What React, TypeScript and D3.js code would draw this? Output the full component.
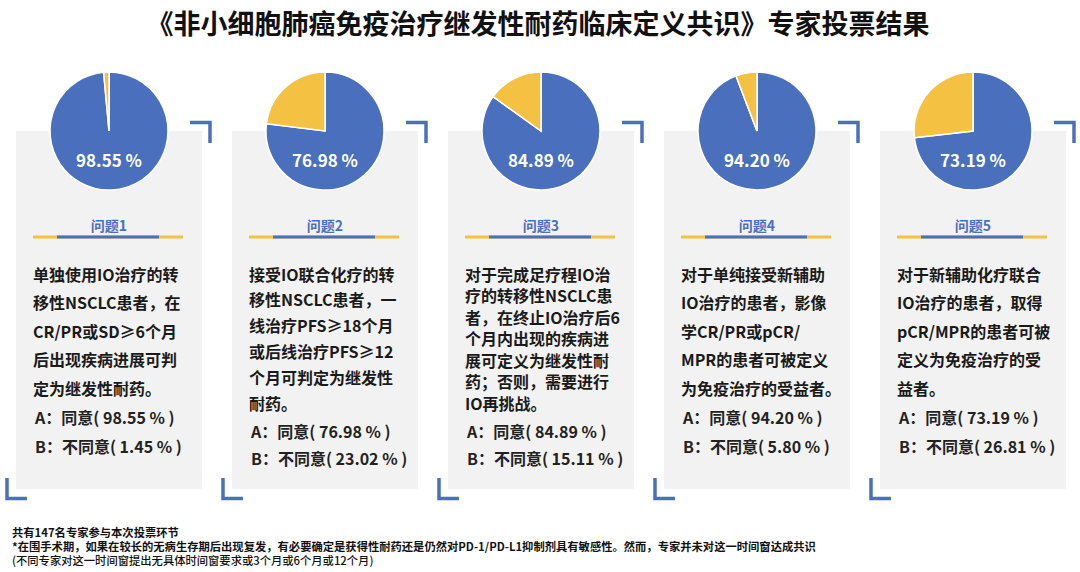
import React from "react";
import * as d3 from "d3";

const TITLE = "《非小细胞肺癌免疫治疗继发性耐药临床定义共识》专家投票结果";
const questions = ["问题1", "问题2", "问题3", "问题4", "问题5"];
const agree = [98.55, 76.98, 84.89, 94.2, 73.19];
const disagree = [1.45, 23.02, 15.11, 5.8, 26.81];
const bodies: string[][] = [
  ["单独使用IO治疗的转", "移性NSCLC患者，在", "CR/PR或SD≥6个月", "后出现疾病进展可判", "定为继发性耐药。"],
  ["接受IO联合化疗的转", "移性NSCLC患者，一", "线治疗PFS≥18个月", "或后线治疗PFS≥12", "个月可判定为继发性", "耐药。"],
  ["对于完成足疗程IO治", "疗的转移性NSCLC患", "者，在终止IO治疗后6", "个月内出现的疾病进", "展可定义为继发性耐", "药；否则，需要进行", "IO再挑战。"],
  ["对于单纯接受新辅助", "IO治疗的患者，影像", "学CR/PR或pCR/", "MPR的患者可被定义", "为免疫治疗的受益者。"],
  ["对于新辅助化疗联合", "IO治疗的患者，取得", "pCR/MPR的患者可被", "定义为免疫治疗的受", "益者。"],
];
const footnotes = [
  "共有147名专家参与本次投票环节",
  "*在围手术期，如果在较长的无病生存期后出现复发，有必要确定是获得性耐药还是仍然对PD-1/PD-L1抑制剂具有敏感性。然而，专家并未对这一时间窗达成共识",
  "(不同专家对这一时间窗提出无具体时间窗要求或3个月或6个月或12个月)",
];

const BLUE = "#4a70bd";
const YELLOW = "#f4c142";
const GRAY = "#f2f2f2";
const FONT = "'Noto Sans CJK SC', 'Noto Sans', sans-serif";

const fmt = (v: number) => v.toFixed(2);

export default function App() {
  const W = 1080, H = 572;
  const boxW = 186, boxTop = 131, boxBottom = 489;
  const panelX = d3.scaleBand<number>().domain(d3.range(5)).range([16, 16 + 216 * 5]).paddingInner(0);
  const R = 59;
  const pie = d3.pie<number>().sort(null).value((d) => d);
  const arc = d3.arc<d3.PieArcDatum<number>>().innerRadius(0).outerRadius(R);

  return (
    <svg width={W} height={H} style={{ display: "block", position: "absolute", left: 0, top: 0, background: "#fff" }} fontFamily={FONT}>
      <rect width={W} height={H} fill="#fff" />
      <text x={538} y={34} textAnchor="middle" fontSize={27} fontWeight={700} fill="#111">{TITLE}</text>
      {d3.range(5).map((i) => {
        const left = panelX(i)!;
        const right = left + boxW;
        const cx = left + 93;
        const cy = 131;
        const arcs = pie([agree[i], disagree[i]]);
        const lines = bodies[i];
        const n = lines.length;
        const start = 275;
        const gap = n <= 5 ? 28.6 : (404 - start) / (n - 1);
        const aY = n <= 5 ? 418 : 432;
        const bY = aY + (n <= 5 ? 29 : 27);
        const lx0 = left + 17, lx1 = right - 19;
        return (
          <g key={i}>
            <rect x={left} y={boxTop} width={boxW} height={boxBottom - boxTop} fill={GRAY} />
            <path d={`M${right - 12},122.5 H${right + 8} V143`} fill="none" stroke={BLUE} strokeWidth={3.5} strokeLinejoin="miter" />
            <path d={`M${left - 9},478 V${boxBottom + 9.5} H${left + 11}`} fill="none" stroke={BLUE} strokeWidth={3.5} strokeLinejoin="miter" />
            <g transform={`translate(${cx},${cy})`}>
              {arcs.map((a, k) => (
                <path key={k} d={arc(a)!} fill={k === 0 ? BLUE : YELLOW} stroke="#fff" strokeWidth={1.5} />
              ))}
              <text x={0} y={30} dy="0.35em" textAnchor="middle" fontSize={17} fontWeight={700} fill="#fff">{`${fmt(agree[i])} %`}</text>
            </g>
            <text x={cx} y={226} dy="0.35em" textAnchor="middle" fontSize={14} fontWeight={700} fill={BLUE}>{questions[i]}</text>
            <line x1={lx0} x2={lx1} y1={237} y2={237} stroke={YELLOW} strokeWidth={3} />
            <line x1={lx0 + 24} x2={lx1 - 24} y1={237} y2={237} stroke={BLUE} strokeWidth={3} />
            {lines.map((s, k) => (
              <text key={k} x={left + 17} y={start + k * gap} dy="0.35em" fontSize={16} fontWeight={700} fill="#1a1a1a">{s}</text>
            ))}
            <text x={left + 19} y={aY} dy="0.35em" fontSize={16} fontWeight={600} fill="#222">{`A：同意( ${fmt(agree[i])} % )`}</text>
            <text x={left + 19} y={bY} dy="0.35em" fontSize={16} fontWeight={600} fill="#222">{`B：不同意( ${fmt(disagree[i])} % )`}</text>
          </g>
        );
      })}
      {footnotes.map((s, k) => (
        <text key={k} x={12} y={533 + k * 14} dy="0.35em" fontSize={11.3} fontWeight={k < 2 ? 700 : 500} fill="#111">{s}</text>
      ))}
    </svg>
  );
}
